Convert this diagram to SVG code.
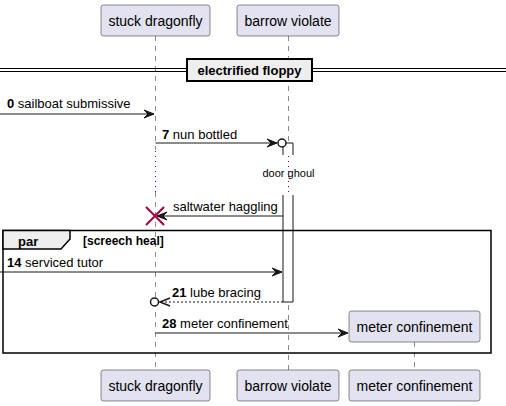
<svg xmlns="http://www.w3.org/2000/svg" width="506" height="406" viewBox="0 0 506 406">
<defs>
<style>
.part rect{fill:#E2E2F0;stroke:#181818;stroke-width:0.5}
.part text{font-family:"Liberation Sans",Arial,sans-serif;font-size:14px;fill:#000;text-anchor:middle}
.life{stroke:#181818;stroke-width:0.5;stroke-dasharray:5,5;fill:none}
.delay{stroke:#A80036;stroke-width:1;stroke-dasharray:1,4;fill:none}
.msg{stroke:#181818;stroke-width:1;fill:none}
.dash{stroke-dasharray:2,2}
.head{fill:#181818;stroke:#181818;stroke-width:1}
.t{font-family:"Liberation Sans",Arial,sans-serif;font-size:13px;fill:#000}
.b{font-weight:bold}
.small{font-family:"Liberation Sans",Arial,sans-serif;font-size:11px;fill:#000}
</style>
</defs>
<rect width="506" height="406" fill="#FFFFFF"/>

<g id="lifelines">
<path class="life" d="M155.5,36 V150 M155.5,192 V370"/>
<path class="delay" d="M155.5,151 V192"/>
<path class="life" d="M288.5,36 V150 M288.5,195 V370"/>
<path class="delay" d="M288.5,156 V195"/>
<path class="life" d="M414.5,342 V370"/>
</g>

<g id="activation">
<path d="M283,155 V143 H293 V155" fill="#FFFFFF" stroke="#181818" stroke-width="1"/>
<path d="M283,195 V302 H293 V195" fill="#FFFFFF" stroke="#181818" stroke-width="1"/>
</g>

<g id="divider">
<line x1="0" y1="68.5" x2="506" y2="68.5" stroke="#000" stroke-width="1"/>
<line x1="0" y1="71.5" x2="506" y2="71.5" stroke="#000" stroke-width="1"/>
<rect x="187" y="59" width="125" height="22" fill="#EEEEEE" stroke="#000" stroke-width="2"/>
<text class="t b" x="249.5" y="75" text-anchor="middle">electrified floppy</text>
</g>

<g id="stuck-dragonfly" class="part">
<rect x="101" y="5" width="109" height="31" rx="2.5"/>
<text x="155.5" y="25.5">stuck dragonfly</text>
<rect x="101" y="370" width="109" height="31" rx="2.5"/>
<text x="155.5" y="390.5">stuck dragonfly</text>
</g>
<g id="barrow-violate" class="part">
<rect x="237" y="5" width="102" height="31" rx="2.5"/>
<text x="288" y="25.5">barrow violate</text>
<rect x="237" y="370" width="102" height="31" rx="2.5"/>
<text x="288" y="390.5">barrow violate</text>
</g>
<g id="meter-confinement" class="part">
<rect x="349" y="311" width="131" height="31" rx="2.5"/>
<text x="414.5" y="331.5">meter confinement</text>
<rect x="349" y="370" width="131" height="31" rx="2.5"/>
<text x="414.5" y="390.5">meter confinement</text>
</g>

<g id="par-frame">
<rect x="3" y="230.5" width="488" height="122.5" fill="none" stroke="#000" stroke-width="1.5"/>
<path d="M3,230.5 H70 V239 L61,249 H3 Z" fill="#EEEEEE" stroke="#000" stroke-width="1.5"/>
<text class="t b" x="18" y="246">par</text>
<text class="b" x="83" y="245" font-family="Liberation Sans, Arial, sans-serif" font-size="12">[screech heal]</text>
</g>

<g id="connectors">
<line class="msg" x1="0" y1="114" x2="154" y2="114"/>
<polygon class="head" points="144,110 154,114 144,118 148,114"/>
<text class="t" x="7" y="108"><tspan class="b">0</tspan> sailboat submissive</text>

<line class="msg" x1="155.5" y1="143" x2="277" y2="143"/>
<polygon class="head" points="267,139 277,143 267,147 271,143"/>
<circle cx="282" cy="143" r="4" fill="#FFFFFF" stroke="#181818" stroke-width="1.5"/>
<text class="t" x="162" y="139"><tspan class="b">7</tspan> nun bottled</text>

<text class="small" x="288.5" y="177" text-anchor="middle">door ghoul</text>

<line class="msg" x1="283" y1="216" x2="157" y2="216"/>
<polygon class="head" points="167,212 157,216 167,220 163,216"/>
<text class="t" x="173" y="211">saltwater haggling</text>
<path d="M146,207 L164,225 M164,207 L146,225" stroke="#A80036" stroke-width="2" fill="none"/>

<line class="msg" x1="0" y1="272" x2="282" y2="272"/>
<polygon class="head" points="272,268 282,272 272,276 276,272"/>
<text class="t" x="7" y="267"><tspan class="b">14</tspan> serviced tutor</text>

<line class="msg dash" x1="283" y1="302" x2="160" y2="302"/>
<path d="M170,298 L160,302 L170,306" stroke="#181818" stroke-width="1.5" fill="none"/>
<circle cx="154.5" cy="302" r="4" fill="#FFFFFF" stroke="#181818" stroke-width="1.5"/>
<text class="t" x="172" y="297"><tspan class="b">21</tspan> lube bracing</text>

<line class="msg" x1="155.5" y1="333" x2="348" y2="333"/>
<polygon class="head" points="338,329 348,333 338,337 342,333"/>
<text class="t" x="162" y="328"><tspan class="b">28</tspan> meter confinement</text>
</g>
</svg>
